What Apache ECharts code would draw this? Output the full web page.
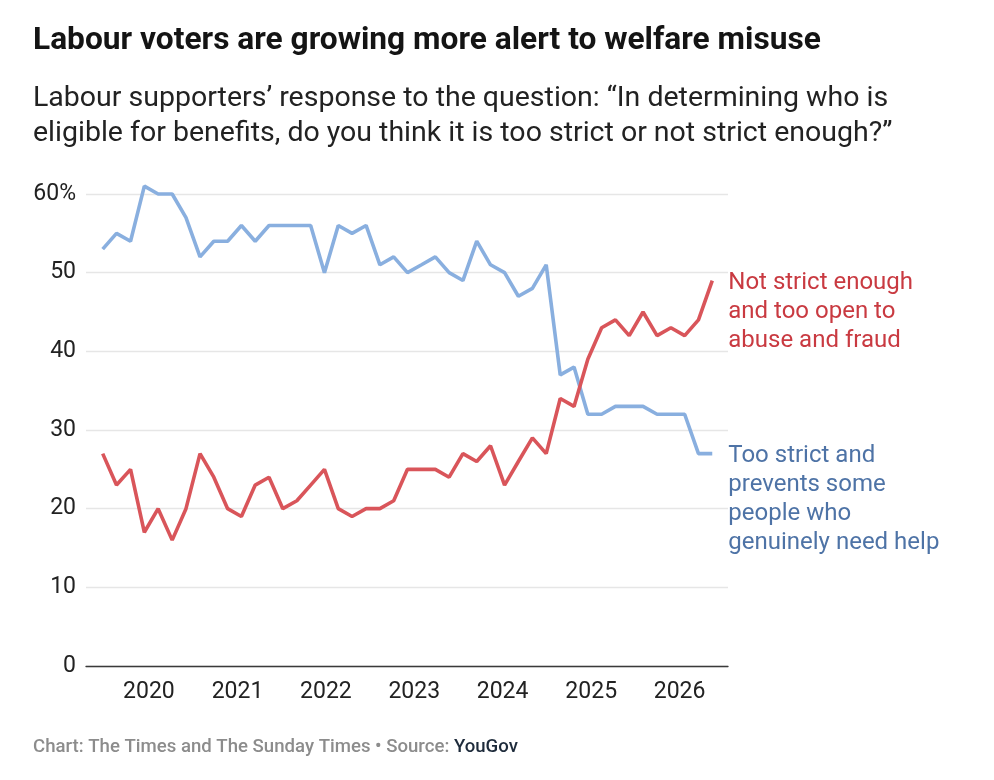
<!DOCTYPE html>
<html>
<head>
<meta charset="utf-8">
<script src="https://cdn.jsdelivr.net/npm/echarts@6/dist/echarts.min.js"></script>
<style>
html,body{margin:0;padding:0;background:#fff;}
#chart{width:994px;height:780px;}
</style>
</head>
<body>
<div id="chart"></div>
<script>
// Survey dates (approximate)
const dates = [
  '2019-06-24','2019-08-20','2019-10-17','2019-12-13','2020-02-08','2020-04-06','2020-06-02','2020-07-30','2020-09-25','2020-11-21',
  '2021-01-17','2021-03-15','2021-05-11','2021-07-07','2021-09-03','2021-10-30','2021-12-26','2022-02-21','2022-04-19','2022-06-16',
  '2022-08-12','2022-10-08','2022-12-04','2023-01-31','2023-03-29','2023-05-25','2023-07-21','2023-09-16','2023-11-12','2024-01-09',
  '2024-03-06','2024-05-03','2024-06-29','2024-08-26','2024-10-22','2024-12-18','2025-02-13','2025-04-11','2025-06-07','2025-08-03',
  '2025-09-30','2025-11-26','2026-01-22','2026-03-20','2026-05-16'
];
// "Too strict and prevents some people who genuinely need help"
const tooStrict = [
  53,55,54,61,60,60,57,52,54,54,
  56,54,56,56,56,56,50,56,55,56,
  51,52,50,51,52,50,49,54,51,50,
  47,48,51,37,38,32,32,33,33,33,
  32,32,32,27,27
];
// "Not strict enough and too open to abuse and fraud"
const notStrict = [
  27,23,25,17,20,16,20,27,24,20,
  19,23,24,20,21,23,25,20,19,20,
  20,21,25,25,25,24,27,26,28,23,
  26,29,27,34,33,39,43,44,42,45,
  42,43,42,44,49
];
const yTicks = [0,10,20,30,40,50,60];
const seriesNames = [
  'Too strict and\nprevents some\npeople who\ngenuinely need help',
  'Not strict enough\nand too open to\nabuse and fraud'
];
const titleText = 'Labour voters are growing more alert to welfare misuse';
const subtitleLines = [
  'Labour supporters\u2019 response to the question: \u201cIn determining who is',
  'eligible for benefits, do you think it is too strict or not strict enough?\u201d'
];

const FONT = 'Roboto, "Noto Sans", sans-serif';
const blueLine = '#89afdf';
const redLine = '#d9555a';
const blueText = '#4e73a6';
const redText = '#c93a41';

const chart = echarts.init(document.getElementById('chart'), null, {renderer:'canvas'});

function pairs(vals){ return vals.map((v,i)=>[dates[i], v]); }

function endLabel(color){
  return {
    show:true,
    formatter:function(p){ return p.seriesName; },
    color:color,
    fontSize:24,
    fontFamily:FONT,
    lineHeight:29,
    align:'left',
    verticalAlign:'top',
    offset:[0,-12],
    distance:16
  };
}

const option = {
  backgroundColor:'#fff',
  animation:false,
  textStyle:{fontFamily:FONT},
  graphic:[
    {type:'text', left:33, top:25, style:{text:titleText, font:'bold 31.7px '+FONT, fill:'#141414'}},
    {type:'text', left:33, top:81, style:{text:subtitleLines.join('\n'), font:'400 28.5px '+FONT, fill:'#222', lineHeight:35}},
    {type:'text', left:33, top:738, style:{
      text:'{a|Chart: The Times and The Sunday Times \u2022 Source: }{b|YouGov}',
      rich:{
        a:{fontFamily:FONT, fontSize:18.6, fontWeight:500, fill:'#8c8c8c', color:'#8c8c8c'},
        b:{fontFamily:FONT, fontSize:18.6, fontWeight:500, fill:'#1e2b3b', color:'#1e2b3b'}
      }
    }}
  ],
  grid:{left:86, right:266, top:194, bottom:114, containLabel:false},
  xAxis:{
    type:'time',
    min:'2019-04-16',
    max:'2026-07-20',
    minInterval:365*24*3600*1000,
    maxInterval:366*24*3600*1000,
    axisLine:{show:true, lineStyle:{color:'#3a3a3a', width:1.3}},
    axisTick:{show:false},
    splitLine:{show:false},
    axisLabel:{
      show:true,
      color:'#222',
      fontSize:23,
      fontFamily:FONT,
      margin:15,
      showMinLabel:false,
      showMaxLabel:false,
      hideOverlap:false,
      formatter:function(v){
        const d = new Date(v);
        return (d.getMonth()===0 && d.getDate()===1) ? String(d.getFullYear()) : '';
      }
    }
  },
  yAxis:{
    type:'value',
    min:yTicks[0],
    max:yTicks[yTicks.length-1],
    interval:10,
    axisLine:{show:false},
    axisTick:{show:false},
    splitLine:{show:true, lineStyle:{color:'#e6e6e6', width:1.3}},
    axisLabel:{
      color:'#222',
      fontSize:23,
      fontFamily:FONT,
      margin:10,
      formatter:function(v){ return v===60 ? '60%' : String(v); }
    }
  },
  series:[
    {
      name:seriesNames[0],
      type:'line',
      data:pairs(tooStrict),
      symbol:'none',
      clip:false,
      z:2,
      lineStyle:{color:blueLine, width:3.6},
      itemStyle:{color:blueLine},
      endLabel:endLabel(blueText)
    },
    {
      name:seriesNames[1],
      type:'line',
      data:pairs(notStrict),
      symbol:'none',
      clip:false,
      z:3,
      lineStyle:{color:redLine, width:3.6},
      itemStyle:{color:redLine},
      endLabel:endLabel(redText)
    }
  ]
};
chart.setOption(option);
</script>
</body>
</html>
